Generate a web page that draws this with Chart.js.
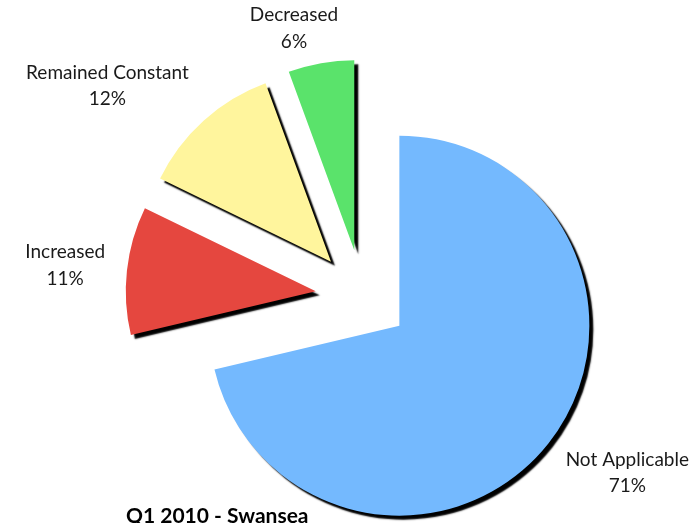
<!DOCTYPE html>
<html>
<head>
<meta charset="utf-8">
<title>Q1 2010 - Swansea</title>
<script src="https://cdn.jsdelivr.net/npm/chart.js@4.4.1/dist/chart.umd.min.js"></script>
<style>
  html, body { margin: 0; padding: 0; background: #fff; overflow: hidden; }
  #wrap { width: 700px; height: 523px; }
</style>
</head>
<body>
<div id="wrap"><canvas id="pieChart" width="700" height="523"></canvas></div>
<script>
// values (percent of responses)
const categories = ['Not Applicable', 'Increased', 'Remained Constant', 'Decreased'];
const shares = [71.3, 10.9, 12.2, 5.6];
const sliceColors = ['#74b9fe', '#e5473f', '#fff59d', '#5ae36b'];
const chartTitle = 'Q1 2010 - Swansea';

const FONT = 'Lato, "Open Sans", sans-serif';
const EXPLODE = 47;

// every slice pushed out along its bisector, with a hard drop shadow
const explodedSlices = {
  id: 'explodedSlices',
  beforeDatasetDraw(chart, args, opts) {
    const ctx = chart.ctx;
    args.meta.data.forEach(arc => {
      const mid = (arc.startAngle + arc.endAngle) / 2;
      ctx.save();
      ctx.translate(Math.cos(mid) * opts.distance, Math.sin(mid) * opts.distance);
      ctx.shadowColor = opts.shadowColor;
      ctx.shadowBlur = opts.shadowBlur;
      ctx.shadowOffsetX = opts.shadowOffset;
      ctx.shadowOffsetY = opts.shadowOffset;
      arc.draw(ctx);
      ctx.restore();
    });
    return false;
  }
};

// "Name / NN%" labels outside each slice
const outsideLabels = {
  id: 'outsideLabels',
  afterDatasetsDraw(chart, args, opts) {
    const ctx = chart.ctx;
    const meta = chart.getDatasetMeta(0);
    const values = chart.data.datasets[0].data;
    const total = values.reduce((a, b) => a + b, 0);
    const clamp = (v, lo, hi) => Math.min(Math.max(v, lo), hi);

    ctx.save();
    ctx.font = opts.font;
    ctx.fillStyle = opts.color;
    ctx.textAlign = 'center';
    ctx.textBaseline = 'middle';

    meta.data.forEach((arc, i) => {
      const lines = [chart.data.labels[i], Math.round(values[i] / total * 100) + '%'];
      const w = Math.max(...lines.map(l => ctx.measureText(l).width));
      const h = lines.length * opts.lineHeight;
      const mid = (arc.startAngle + arc.endAngle) / 2;
      const ux = Math.cos(mid);
      const uy = Math.sin(mid);
      const r = arc.outerRadius + opts.explode + opts.gap;

      let x = arc.x + ux * (r + opts.extraX) + clamp(ux * opts.pushX, -1, 1) * w / 2;
      let y = arc.y + uy * r + clamp(uy * opts.pushY, -1, 1) * h / 2;
      x = clamp(x, w / 2 + opts.edge, chart.width - w / 2 - opts.edge);
      y = clamp(y, h / 2 + opts.edge, chart.height - h / 2 - opts.edge);

      lines.forEach((line, j) => {
        ctx.fillText(line, x, y - h / 2 + opts.lineHeight * (j + 0.5));
      });
    });
    ctx.restore();
  }
};

new Chart(document.getElementById('pieChart'), {
  type: 'pie',
  data: {
    labels: categories,
    datasets: [{
      data: shares,
      backgroundColor: sliceColors,
      borderWidth: 0,
      clip: false
    }]
  },
  options: {
    responsive: false,
    animation: false,
    devicePixelRatio: 1,
    radius: 190,
    layout: {
      padding: { left: 126, right: 101, top: 89.6, bottom: 0 }
    },
    plugins: {
      legend: { display: false },
      tooltip: { enabled: false },
      title: {
        display: true,
        text: chartTitle,
        position: 'bottom',
        align: 'start',
        color: '#000',
        font: { family: FONT, size: 21, weight: 'bold' },
        padding: { top: 0, bottom: -5.6 }
      },
      explodedSlices: {
        distance: EXPLODE,
        shadowColor: 'rgba(0,0,0,1)',
        shadowBlur: 1.5,
        shadowOffset: 4
      },
      outsideLabels: {
        font: '19px ' + FONT,
        color: '#1a1a1a',
        lineHeight: 26.5,
        explode: EXPLODE,
        gap: 18,
        extraX: 4,
        pushX: 3,
        pushY: 1.1,
        edge: 2
      }
    }
  },
  plugins: [explodedSlices, outsideLabels]
});
</script>
</body>
</html>
